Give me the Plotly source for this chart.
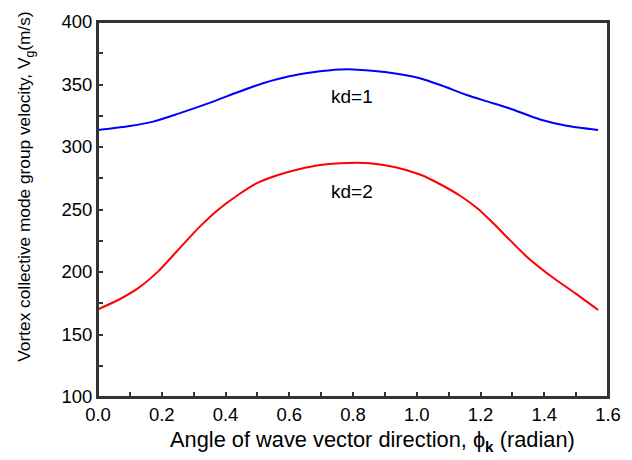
import plotly.graph_objects as go

phi_kd1 = [0.0, 0.1, 0.173, 0.25, 0.361, 0.44, 0.518, 0.6, 0.68, 0.76, 0.8, 0.9, 1.01, 1.08, 1.157, 1.22, 1.29, 1.387, 1.47, 1.569]
vg_kd1 = [313.6, 316.8, 320.3, 326.5, 336.3, 344, 351, 356.6, 360, 362, 362.1, 360, 355, 349, 341.6, 336.5, 331, 322, 317, 313.6]

phi_kd2 = [0.0, 0.063, 0.125, 0.188, 0.251, 0.314, 0.376, 0.439, 0.502, 0.565, 0.63, 0.696, 0.76, 0.853, 0.93, 1.01, 1.075, 1.136, 1.19, 1.24, 1.345, 1.43, 1.5, 1.569]
vg_kd2 = [170.1, 177.6, 186.9, 200.3, 217.6, 234.9, 249.6, 261.6, 271.5, 277.6, 282.2, 285.6, 287, 287, 284, 278, 270, 261, 251, 239, 212.3, 195, 182.5, 169.6]

labels = ["kd=1", "kd=2"]
label_x = [0.796, 0.798]
label_y = [340.3, 264.3]

x_title = "Angle of wave vector direction, ϕ<sub><b>k</b></sub> (radian)"
y_title = "Vortex collective mode group velocity, V<sub>g</sub>(m/s)"

x_tickvals = [0, 0.2, 0.4, 0.6, 0.8, 1.0, 1.2, 1.4, 1.6]
x_ticktext = ["0.0", "0.2", "0.4", "0.6", "0.8", "1.0", "1.2", "1.4", "1.6"]
x_minor = [0.1, 0.3, 0.5, 0.7, 0.9, 1.1, 1.3, 1.5]
y_tickvals = [100, 150, 200, 250, 300, 350, 400]
y_minor = [125, 175, 225, 275, 325, 375]

font_family = "Liberation Sans, Arial, sans-serif"
axis_color = "#333333"

fig = go.Figure()
fig.add_trace(go.Scatter(x=phi_kd1, y=vg_kd1, mode="lines",
                         line=dict(color="#0000ff", width=2, shape="spline", smoothing=0.7),
                         showlegend=False, hoverinfo="skip"))
fig.add_trace(go.Scatter(x=phi_kd2, y=vg_kd2, mode="lines",
                         line=dict(color="#ff0000", width=2, shape="spline", smoothing=0.7),
                         showlegend=False, hoverinfo="skip"))

for t, x, y in zip(labels, label_x, label_y):
    fig.add_annotation(x=x, y=y, text=t, showarrow=False,
                       font=dict(family=font_family, size=19, color="black"))

# axis titles placed as annotations for exact positioning
fig.add_annotation(xref="paper", yref="paper", x=0.538, y=-0.118, text=x_title,
                   showarrow=False, xanchor="center", yanchor="middle",
                   font=dict(family=font_family, size=21.8, color="black"))
fig.add_annotation(xref="paper", yref="paper", x=-0.141, y=0.561, text=y_title,
                   textangle=-90, showarrow=False, xanchor="center", yanchor="middle",
                   font=dict(family=font_family, size=17.3, color="black"))

# frame
fig.add_shape(type="rect", xref="paper", yref="paper", x0=0, y0=0, x1=1, y1=1,
              line=dict(color=axis_color, width=2), layer="above")

fig.update_layout(
    width=632, height=460,
    margin=dict(l=98, r=24, t=22, b=63),
    paper_bgcolor="white", plot_bgcolor="white",
    font=dict(family=font_family, size=18.5, color="black"),
)
fig.update_xaxes(
    range=[0, 1.6], tickmode="array", tickvals=x_tickvals, ticktext=x_ticktext,
    ticks="inside", ticklen=5, tickwidth=1.5, tickcolor=axis_color,
    minor=dict(tickvals=x_minor, ticks="inside", ticklen=5, tickwidth=1.5, tickcolor=axis_color),
    showline=True, linecolor=axis_color, linewidth=2, mirror=True,
    showgrid=False, zeroline=False, tickfont=dict(size=18.5),
)
fig.update_yaxes(
    range=[100, 400], tickmode="array", tickvals=y_tickvals,
    ticks="inside", ticklen=5, tickwidth=1.5, tickcolor=axis_color,
    minor=dict(tickvals=y_minor, ticks="inside", ticklen=5, tickwidth=1.5, tickcolor=axis_color),
    showline=True, linecolor=axis_color, linewidth=2, mirror=True,
    showgrid=False, zeroline=False, tickfont=dict(size=18.5),
)

fig.write_html("out.html", config={"displayModeBar": False},
               post_script="document.body.style.margin='0px';")
